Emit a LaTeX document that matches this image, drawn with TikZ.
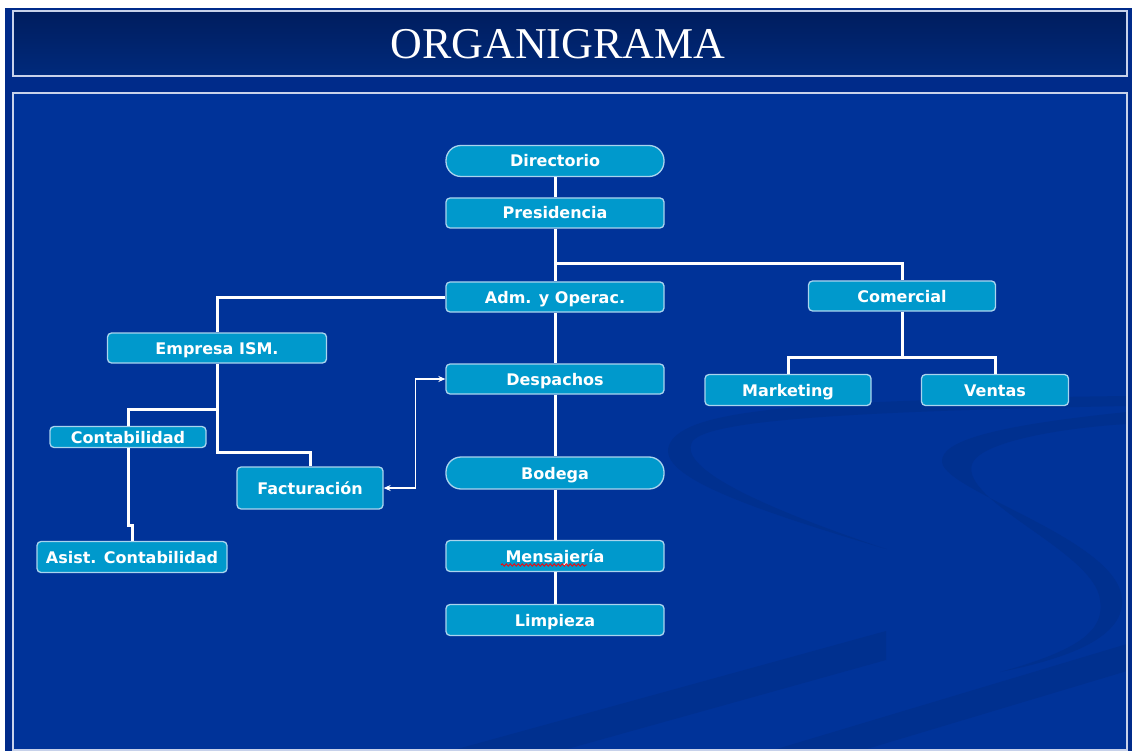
\documentclass[tikz,border=0pt]{standalone}
\usepackage{fontspec}
\setmainfont{DejaVu Sans}
\newfontfamily\titlefont{Liberation Serif}
\usetikzlibrary{arrows.meta,positioning,calc,decorations.pathmorphing}

\definecolor{navy}{HTML}{002B8A}
\definecolor{panel}{HTML}{003399}
\definecolor{titletop}{HTML}{001D5E}
\definecolor{titlebot}{HTML}{002A7C}
\definecolor{unitfill}{HTML}{0099CC}
\definecolor{unitrim}{HTML}{A9D4EE}
\definecolor{framec}{HTML}{C8D2EA}
\definecolor{swoosh}{HTML}{00308F}

\begin{document}
\begin{tikzpicture}[x=1pt, y=-1pt,
  unit/.style={draw=unitrim, line width=1.3pt, fill=unitfill,
               rounded corners=4pt, inner sep=0pt, text=white,
               text height=12pt, text depth=0pt,
               font=\bfseries\fontsize{16}{16}\selectfont},
  pill/.style={unit, rounded corners=15pt},
  link/.style={draw=white, line width=3pt},
  dbl/.style={draw=white, line width=1.2pt,
              {Stealth[length=7pt,width=6pt]}-{Stealth[length=7pt,width=6pt]}},
  frame/.style={draw=framec, line width=1.8pt}]
  \useasboundingbox (0,0) rectangle (1132,751);
  % slide background
  \fill[white] (0,0) rectangle (1132,751);
  \fill[navy] (5,8) rectangle (1132,751);
  \shade[top color=titletop, bottom color=titlebot] (13,11) rectangle (1127,76);
  \draw[frame] (13,11) rectangle (1127,76);
  \fill[panel] (13,93) rectangle (1127,750);
  \begin{scope}
    \clip (13,93) rectangle (1127,750);
    \fill[swoosh] (886,549) .. controls (720,500) and (650,470) .. (672,440)
      .. controls (695,410) and (800,400) .. (1127,396) -- (1127,406)
      .. controls (820,412) and (705,422) .. (692,442)
      .. controls (680,465) and (740,500) .. (886,549) -- cycle;
    \fill[swoosh] (1127,412) .. controls (1000,425) and (940,440) .. (942,462)
      .. controls (945,492) and (1120,540) .. (1122,600)
      .. controls (1124,640) and (1060,660) .. (1000,672)
      .. controls (1080,650) and (1105,630) .. (1100,600)
      .. controls (1095,552) and (960,502) .. (972,464)
      .. controls (980,442) and (1060,428) .. (1127,424) -- cycle;
    \fill[swoosh] (450,751) -- (886,631) -- (886,660) -- (560,751) -- cycle;
    \fill[swoosh] (770,751) -- (1127,644) -- (1127,671) -- (860,751) -- cycle;
  \end{scope}
  \draw[frame] (13,93) rectangle (1127,750);
  \node[font=\titlefont\fontsize{44}{44}\selectfont, text=white] (title) at (558,44) {ORGANIGRAMA};

  % units
  \node[pill, minimum width=218pt, minimum height=31pt] (dir) at (555,161) {Directorio};
  \node[unit, minimum width=218pt, minimum height=30pt] (pres) at (555,213) {Presidencia};
  \node[unit, minimum width=218pt, minimum height=30pt] (adm) at (555,297) {Adm. y Operac.};
  \node[unit, minimum width=187pt, minimum height=30pt] (com) at (902,296) {Comercial};
  \node[unit, minimum width=219pt, minimum height=30pt] (emp) at (217,348) {Empresa ISM.};
  \node[unit, minimum width=218pt, minimum height=30pt] (desp) at (555,379) {Despachos};
  \node[unit, minimum width=166pt, minimum height=31pt] (mkt) at (788,390) {Marketing};
  \node[unit, minimum width=147pt, minimum height=31pt] (ven) at (995,390) {Ventas};
  \node[unit, minimum width=156pt, minimum height=21pt] (cont) at (128,437) {Contabilidad};
  \node[unit, minimum width=146pt, minimum height=42pt] (fact) at (310,488) {Facturación};
  \node[pill, minimum width=218pt, minimum height=32pt] (bod) at (555,473) {Bodega};
  \node[unit, minimum width=190pt, minimum height=31pt] (asist) at (132,557) {Asist. Contabilidad};
  \node[unit, minimum width=218pt, minimum height=31pt] (mens) at (555,556) {Mensajería};
  \node[unit, minimum width=218pt, minimum height=31pt] (limp) at (555,620) {Limpieza};
  % spell-check underline
  \draw[red, line width=0.8pt, decorate,
        decoration={snake, segment length=4pt, amplitude=1.2pt}]
    ($(mens.center)+(-54,9)$) -- ($(mens.center)+(32,9)$);

  % links
  \draw[link] (dir) -- (pres);
  \draw[link] (pres) -- (adm);
  \draw[link] (pres.south) ++(0,35) -| (com.north);
  \draw[link] (adm.west) -| (emp.north);
  \draw[link] (adm) -- (desp);
  \draw[link] (desp) -- (bod);
  \draw[link] (bod) -- (mens);
  \draw[link] (mens) -- (limp);
  \draw[link] (com.south) -- ++(0,46) -| (mkt.north);
  \draw[link] (com.south) ++(0,46) -| (ven.north);
  \draw[link] (emp.south) -- ++(0,89) -| (fact.north);
  \draw[link] (emp.south) ++(0,46) -| (cont.north);
  \draw[link] (cont.south) -- ++(0,77) -| (asist.north);
  \draw[dbl] (fact.east) -- ++(32,0) |- (desp.west);
\end{tikzpicture}
\end{document}
